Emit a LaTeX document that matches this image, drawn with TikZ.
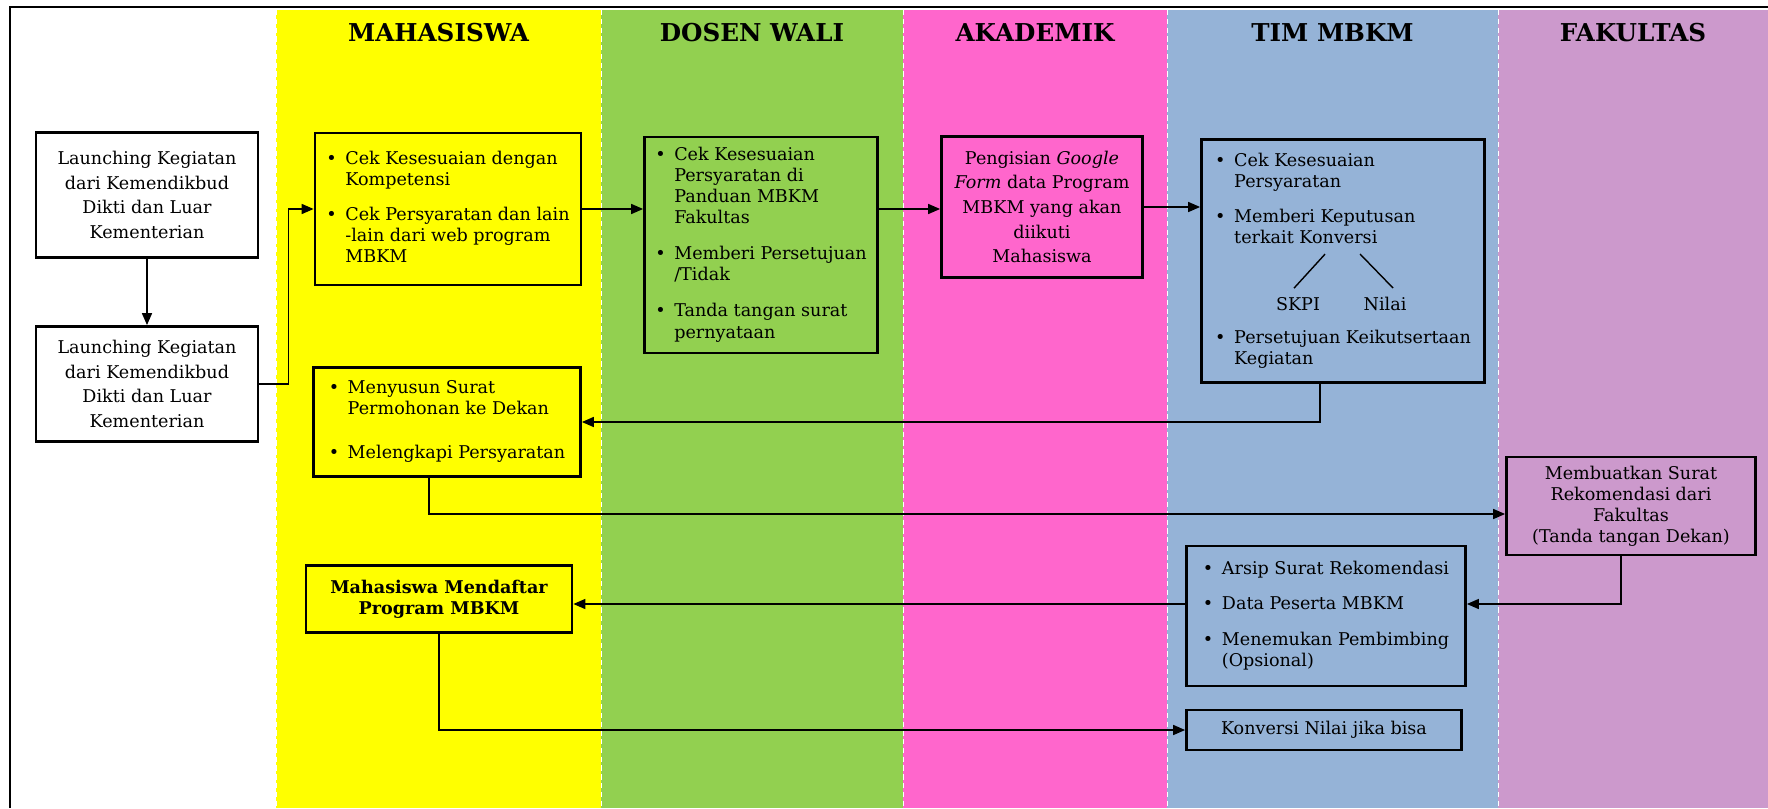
\documentclass[tikz,border=0pt]{standalone}
\usepackage{fontspec}
\setmainfont{DejaVu Serif}
\usetikzlibrary{arrows.meta, calc, positioning}

\definecolor{mhsyellow}{HTML}{FFFF00}
\definecolor{dosgreen}{HTML}{92D050}
\definecolor{akpink}{HTML}{FF66CC}
\definecolor{timblue}{HTML}{95B3D7}
\definecolor{fakpurple}{HTML}{CC99CC}

\newcommand{\bul}{\makebox[0.38cm][l]{\textbullet}}
\newenvironment{blist}{\begin{tabular}{@{}l@{}l@{}}}{\end{tabular}}

\begin{document}
\begin{tikzpicture}[x=0.02cm, y=-0.02cm, >={Triangle[length=0.24cm, width=0.2cm]},
	box/.style={draw, line width=1.6pt, inner sep=0pt, font=\fontsize{10}{12}\selectfont},
	cbox/.style={box, align=center, font=\fontsize{10}{14}\selectfont},
	lanetitle/.style={font=\fontsize{14}{16}\selectfont\bfseries},
	link/.style={->, line width=0.9pt}]
	\useasboundingbox (0,0) rectangle (1768,808);
	% Lanes
	\foreach \xa/\xb/\col/\nm/\ttl in {276/601/mhsyellow/mhs/MAHASISWA, 601/903/dosgreen/dos/DOSEN WALI, 903/1167/akpink/akd/AKADEMIK, 1167/1498/timblue/tim/TIM MBKM, 1498/1768/fakpurple/fak/FAKULTAS}{
		\fill[\col] (\xa,10) rectangle (\xb,808);
		\node[lanetitle] (t-\nm) at ({(\xa+\xb)/2},33) {\ttl};
	}
	\foreach \x in {276,601,903,1167,1498}
		\draw[white, densely dashed, line width=0.4pt] (\x,10) -- (\x,808);
	\draw[line width=1.2pt] (10,808) -- (10,7) -- (1768,7);
	
	% Boxes
	\node[cbox, minimum width=4.44cm, minimum height=2.5cm] (lnc1) at (147,195) {Launching Kegiatan\\dari Kemendikbud\\Dikti dan Luar\\Kementerian};
	\node[cbox, minimum width=4.44cm, minimum height=2.3cm] (lnc2) at (147,384) {Launching Kegiatan\\dari Kemendikbud\\Dikti dan Luar\\Kementerian};
	\node[box, minimum width=5.32cm, minimum height=3.04cm] (cek) at (448,209) {\begin{blist}
		\bul & Cek Kesesuaian dengan\\
		& Kompetensi\\[0.28cm]
		\bul & Cek Persyaratan dan lain\\
		& -lain dari web program\\
		& MBKM
	\end{blist}};
	\node[box, minimum width=4.66cm, minimum height=4.32cm] (dosen) at (761,245) {\begin{blist}
		\bul & Cek Kesesuaian\\
		& Persyaratan di\\
		& Panduan MBKM\\
		& Fakultas\\[0.3cm]
		\bul & Memberi Persetujuan\\
		& /Tidak\\[0.3cm]
		\bul & Tanda tangan surat\\
		& pernyataan
	\end{blist}};
	\node[cbox, minimum width=4.02cm, minimum height=2.82cm] (gform) at (1042,207) {Pengisian \textit{Google}\\\textit{Form} data Program\\MBKM yang akan\\diikuti\\Mahasiswa};
	\node[box, minimum width=5.66cm, minimum height=4.86cm] (tim) at (1343,261) {\begin{blist}
		\bul & Cek Kesesuaian\\
		& Persyaratan\\[0.28cm]
		\bul & Memberi Keputusan\\
		& terkait Konversi\\[1.58cm]
		\bul & Persetujuan Keikutsertaan\\
		& Kegiatan
	\end{blist}};
	\node[font=\fontsize{10}{12}\selectfont] (skpi) at ($(tim.center)+(-45,43)$) {SKPI};
	\node[font=\fontsize{10}{12}\selectfont] (nilai) at ($(tim.center)+(42,43)$) {Nilai};
	\draw[line width=0.8pt] ($(skpi.north)+(-4,-3)$) -- ++(31,-34);
	\draw[line width=0.8pt] ($(nilai.north)+(8,-3)$) -- ++(-33,-34);
	\node[box, minimum width=5.34cm, minimum height=2.18cm] (surat) at (447,422) {\begin{blist}
		\bul & Menyusun Surat\\
		& Permohonan ke Dekan\\[0.46cm]
		\bul & Melengkapi Persyaratan
	\end{blist}};
	\node[box, align=center, minimum width=4.98cm, minimum height=1.96cm] (rekom) at (1631,506) {Membuatkan Surat\\Rekomendasi dari\\Fakultas\\(Tanda tangan Dekan)};
	\node[box, minimum width=5.58cm, minimum height=2.8cm] (arsip) at (1326,616) {\begin{blist}
		\bul & Arsip Surat Rekomendasi\\[0.28cm]
		\bul & Data Peserta MBKM\\[0.3cm]
		\bul & Menemukan Pembimbing\\
		& (Opsional)
	\end{blist}};
	\node[box, align=center, minimum width=5.32cm, minimum height=1.34cm, font=\fontsize{10}{12}\selectfont\bfseries] (daftar) at (439,599) {Mahasiswa Mendaftar\\Program MBKM};
	\node[box, minimum width=5.5cm, minimum height=0.8cm] (konv) at (1324,730) {Konversi Nilai jika bisa};
	
	% Connectors
	\draw[link] (lnc1) -- (lnc2);
	\draw[link] (lnc2.east) -- ++(29,0) |- (cek.west);
	\draw[link] (cek.east) -- (cek.east -| dosen.west);
	\draw[link] (cek.east -| dosen.east) -- (cek.east -| gform.west);
	\draw[link] (gform.east) -- (gform.east -| tim.west);
	\draw[link] ($(tim.south)+(-23,0)$) |- (surat.east);
	\draw[link] ($(surat.south)+(-18,0)$) |- ($(rekom.west)+(0,8)$);
	\draw[link] ($(rekom.south)+(-10,0)$) |- ($(arsip.east)+(0,-12)$);
	\coordinate (arsipout) at ($(arsip.west)+(0,-12)$);
	\draw[link] (arsipout) -- (arsipout -| daftar.east);
	\draw[link] (daftar.south) |- (konv.west);
\end{tikzpicture}
\end{document}
